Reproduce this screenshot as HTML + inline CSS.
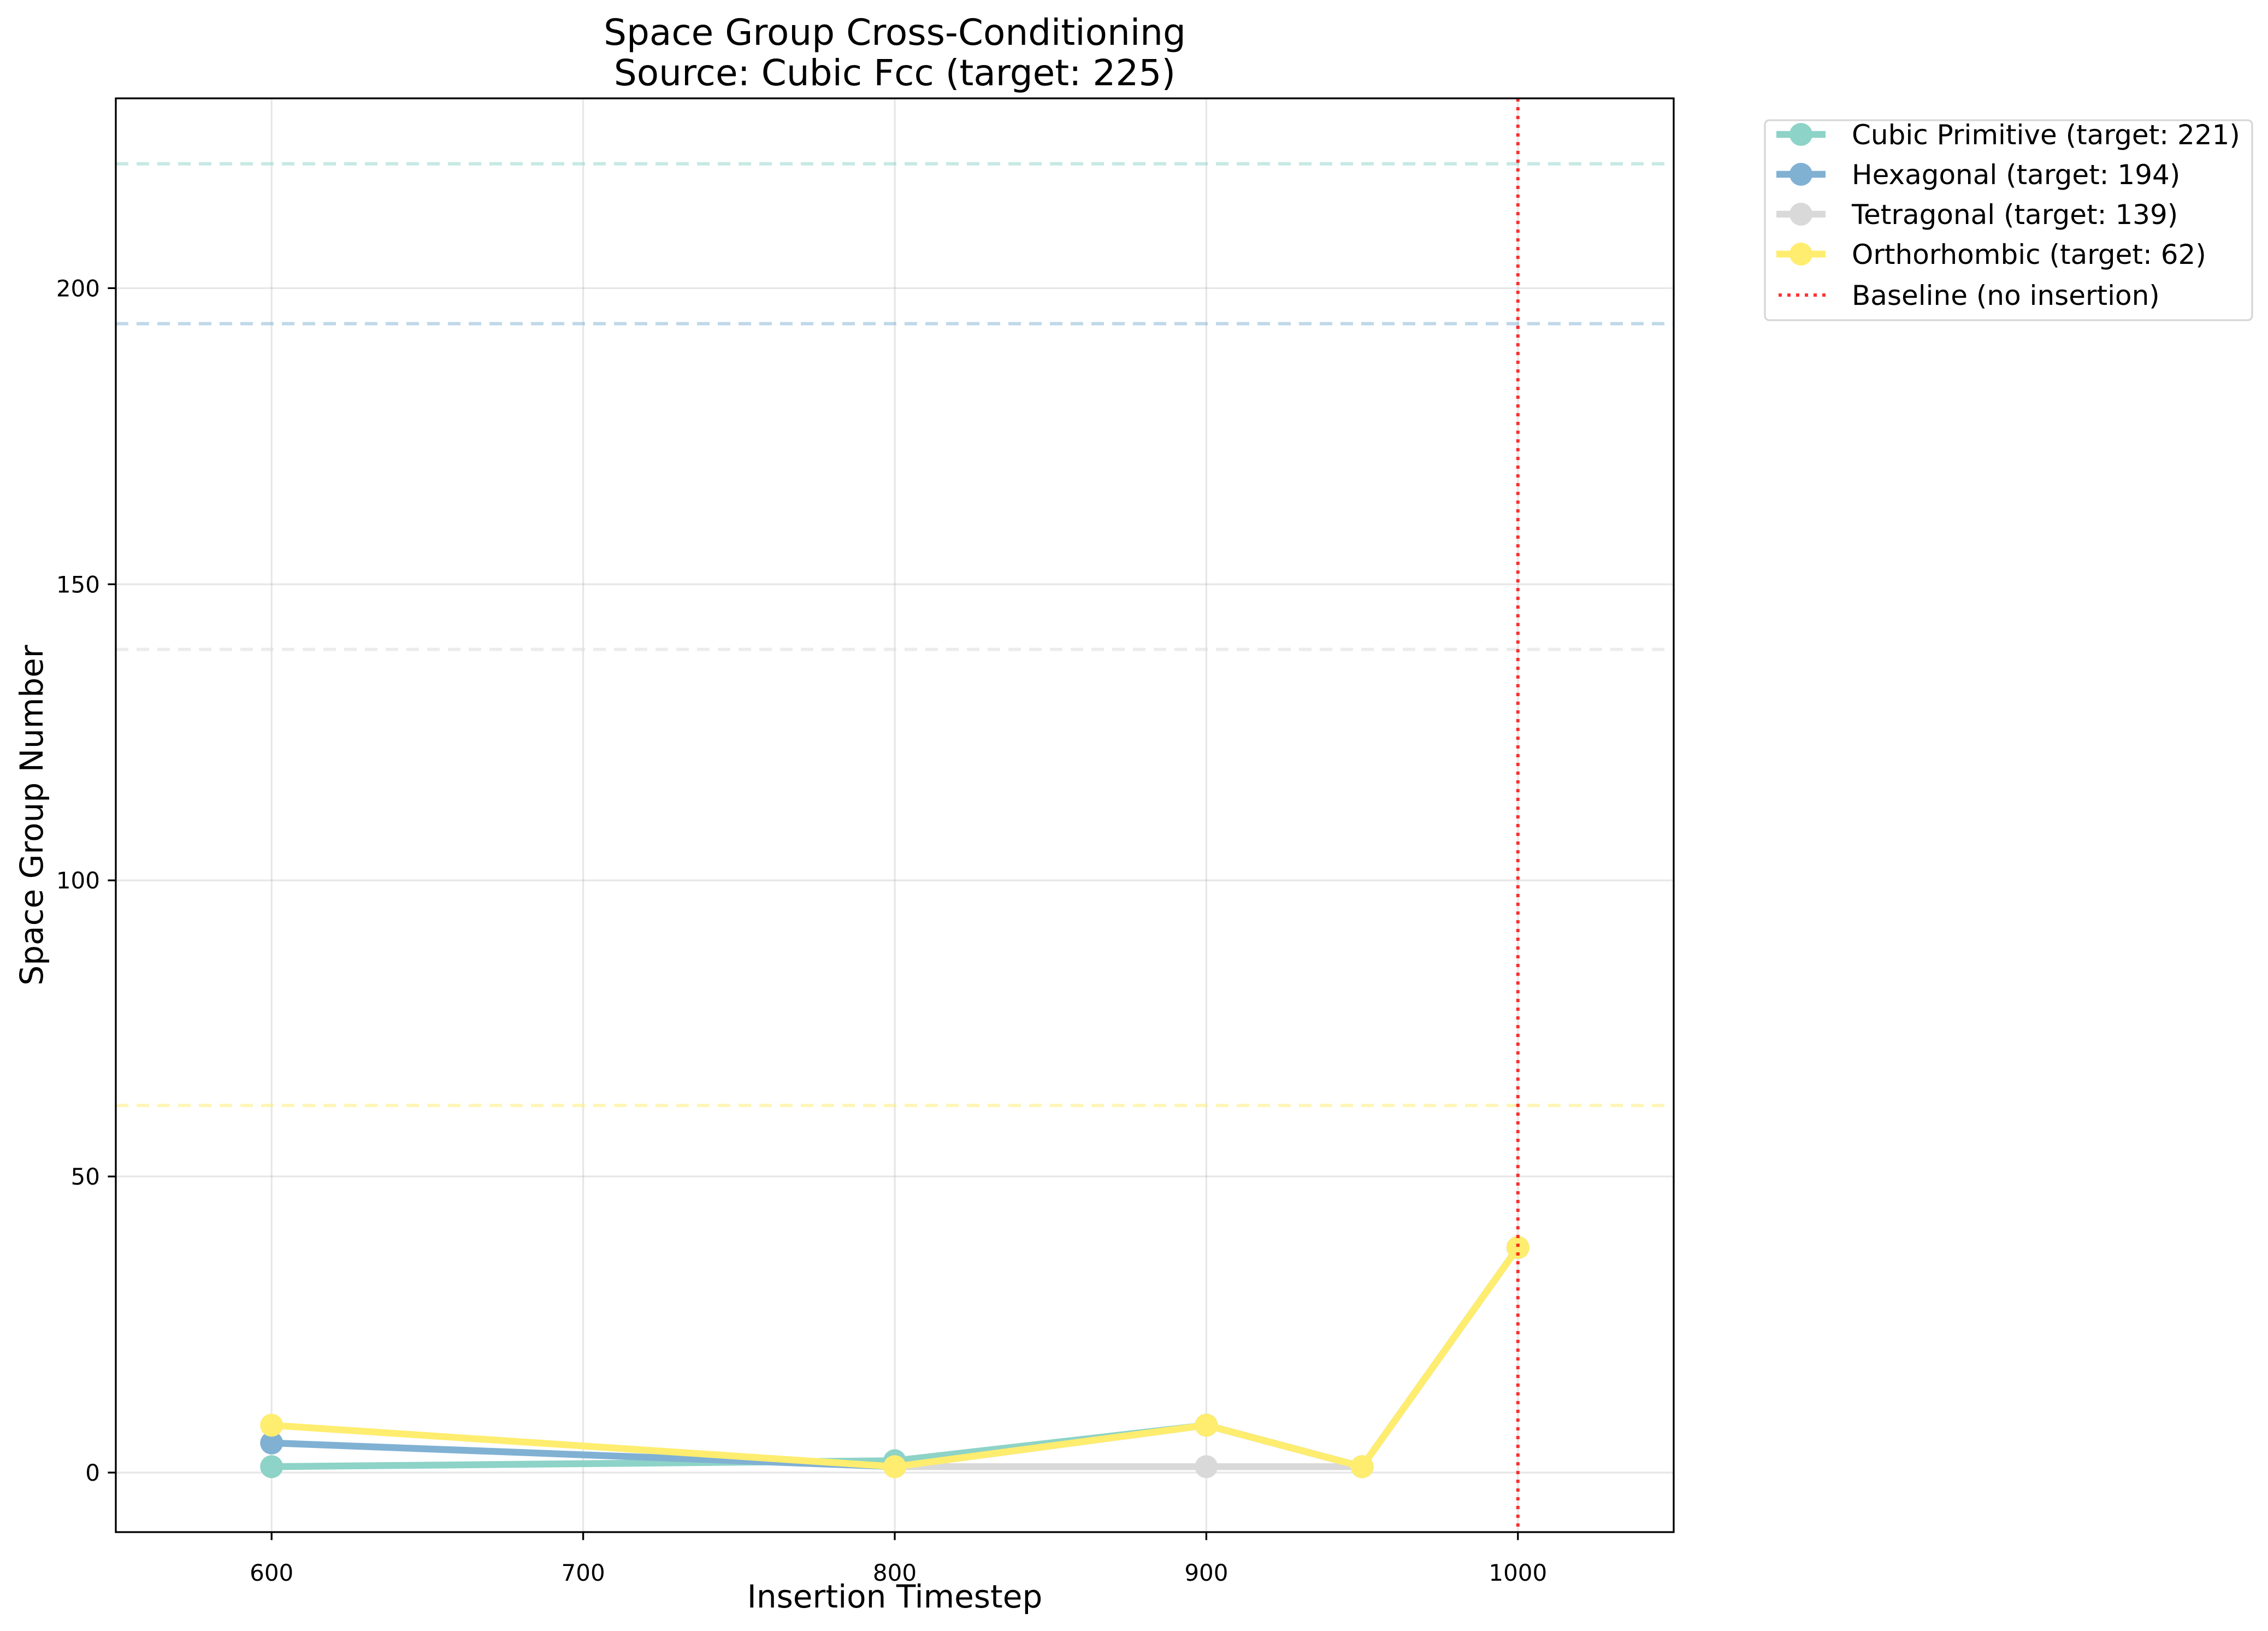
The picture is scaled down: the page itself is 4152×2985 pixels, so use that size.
<!DOCTYPE html>
<html><head><meta charset="utf-8"><style>
body{margin:0;background:#fff}
svg text{font-family:"DejaVu Sans","Liberation Sans",sans-serif}
</style></head><body>
<svg id="chart" width="4152" height="2980" xmlns="http://www.w3.org/2000/svg">
<rect width="4152" height="2980" fill="#fff"/>
<g id="grid"></g><g id="targets"></g><g id="series"></g><g id="axes"></g><g id="legend"></g>
</svg>
<script>
const xTicks=[600,700,800,900,1000];
const yTicks=[0,50,100,150,200];
const seriesNames=["Cubic Primitive (target: 221)","Hexagonal (target: 194)","Tetragonal (target: 139)","Orthorhombic (target: 62)"];
const targets=[221,194,139,62];
const cubicX=[600,800,900,950,1000];
const cubicY=[1,2,8,1,38];
const hexX=[600,800,900,950,1000];
const hexY=[5,1,8,1,38];
const tetraX=[800,900,950,1000];
const tetraY=[1,1,1,38];
const orthoX=[600,800,900,950,1000];
const orthoY=[8,1,8,1,38];
const baselineX=1000;
const colors=["#8dd3c7","#80b1d3","#d9d9d9","#ffed6f"];
const L=212,R=3064,T=180,B=2804,xmin=550,xmax=1050,ymin=-10.05,ymax=232.05;
const sx=v=>L+(v-xmin)/(xmax-xmin)*(R-L);
const sy=v=>B-(v-ymin)/(ymax-ymin)*(B-T);
const NS="http://www.w3.org/2000/svg";
function mk(parent,tag,attrs){const e=document.createElementNS(NS,tag);for(const k in attrs)e.setAttribute(k,attrs[k]);document.getElementById(parent).appendChild(e);return e;}
xTicks.forEach(v=>{const e=mk("grid","line",{x1:sx(v),x2:sx(v),y1:T,y2:B,stroke:"#b0b0b0","stroke-opacity":0.3,"stroke-width":3.3});

});
yTicks.forEach(v=>{const e=mk("grid","line",{x1:L,x2:R,y1:sy(v),y2:sy(v),stroke:"#b0b0b0","stroke-opacity":0.3,"stroke-width":3.3});

});
targets.forEach((t,i)=>{const e=mk("targets","line",{x1:L,x2:R,y1:sy(t),y2:sy(t),stroke:colors[i],"stroke-opacity":0.5,"stroke-width":6,"stroke-dasharray":"23,15"});

});
const allX=[cubicX,hexX,tetraX,orthoX],allY=[cubicY,hexY,tetraY,orthoY];
allX.forEach((xs,i)=>{const ys=allY[i];
const p=mk("series","polyline",{points:xs.map((x,j)=>sx(x)+","+sy(ys[j])).join(" "),fill:"none",stroke:colors[i],"stroke-width":12.5});


xs.forEach((x,j)=>{const c=mk("series","circle",{cx:sx(x),cy:sy(ys[j]),r:21,fill:colors[i]});

});});
const bl=mk("series","line",{x1:sx(baselineX),x2:sx(baselineX),y1:T,y2:B,stroke:"#ff0000","stroke-opacity":0.8,"stroke-width":6,"stroke-dasharray":"6,10"});


const fr=mk("axes","rect",{x:L,y:T,width:R-L,height:B-T,fill:"none",stroke:"#000","stroke-width":3.3});


xTicks.forEach(v=>{mk("axes","line",{x1:sx(v),x2:sx(v),y1:B,y2:B+14.6,stroke:"#000","stroke-width":3.3});
const t=mk("axes","text",{x:sx(v),y:2893,"text-anchor":"middle","font-size":42});t.textContent=v;

});
yTicks.forEach(v=>{mk("axes","line",{x1:L-14.6,x2:L,y1:sy(v),y2:sy(v),stroke:"#000","stroke-width":3.3});
const t=mk("axes","text",{x:L-29,y:sy(v)+15,"text-anchor":"end","font-size":42});t.textContent=v;

});
</script>
<svg style="position:absolute;left:0;top:0" width="4152" height="2980" xmlns="http://www.w3.org/2000/svg">
<text x="1638" y="82" text-anchor="middle" font-size="66" font-family="DejaVu Sans, sans-serif">Space Group Cross-Conditioning</text>
<text x="1638" y="156" text-anchor="middle" font-size="66" font-family="DejaVu Sans, sans-serif">Source: Cubic Fcc (target: 225)</text>
<text x="1638" y="2942" text-anchor="middle" font-size="58" font-family="DejaVu Sans, sans-serif">Insertion Timestep</text>
<text x="78" y="1492" text-anchor="middle" font-size="58" font-family="DejaVu Sans, sans-serif" transform="rotate(-90 78 1492)">Space Group Number</text>
<g font-family="DejaVu Sans, sans-serif" font-size="50">
<rect x="3231" y="220" width="892" height="366" rx="8" fill="#fff" stroke="#d6d6d6" stroke-width="3.3"/>
<g><line x1="3252" x2="3342" y1="246" y2="246" stroke="#8dd3c7" stroke-width="12.5"/><circle cx="3297" cy="246" r="21" fill="#8dd3c7"/><text x="3390" y="264">Cubic Primitive (target: 221)</text></g>
<g><line x1="3252" x2="3342" y1="319" y2="319" stroke="#80b1d3" stroke-width="12.5"/><circle cx="3297" cy="319" r="21" fill="#80b1d3"/><text x="3390" y="337">Hexagonal (target: 194)</text></g>
<g><line x1="3252" x2="3342" y1="392" y2="392" stroke="#d9d9d9" stroke-width="12.5"/><circle cx="3297" cy="392" r="21" fill="#d9d9d9"/><text x="3390" y="410">Tetragonal (target: 139)</text></g>
<g><line x1="3252" x2="3342" y1="465" y2="465" stroke="#ffed6f" stroke-width="12.5"/><circle cx="3297" cy="465" r="21" fill="#ffed6f"/><text x="3390" y="483">Orthorhombic (target: 62)</text></g>
<g><line x1="3256" x2="3342" y1="540" y2="540" stroke="#ff0000" stroke-opacity="0.8" stroke-width="6" stroke-dasharray="6,10"/><text x="3390" y="558">Baseline (no insertion)</text></g>
</g>
</svg>
</body></html>
